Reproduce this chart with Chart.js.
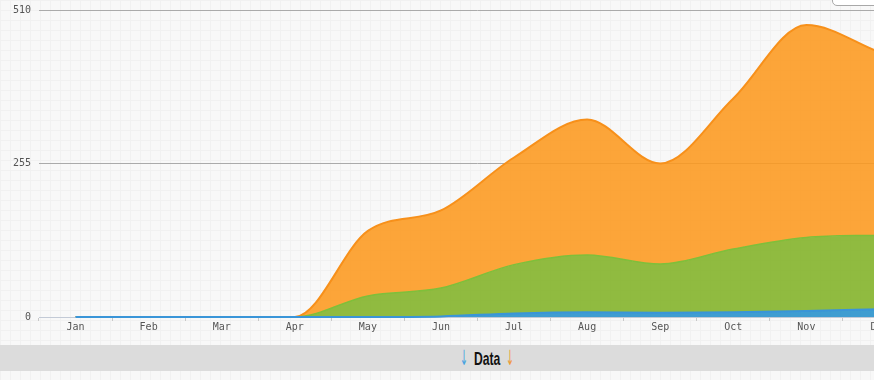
<!DOCTYPE html>
<html>
<head>
<meta charset="utf-8">
<script src="https://cdn.jsdelivr.net/npm/chart.js@4/dist/chart.umd.min.js"></script>
<style>
  html, body { margin: 0; padding: 0; overflow: hidden; width: 874px; height: 380px; }
  body {
    background-color: #f8f8f8;
    background-image:
      linear-gradient(#f1f1f1 1px, transparent 1px),
      linear-gradient(90deg, #f1f1f1 1px, transparent 1px);
    background-size: 10px 10px;
  }
  #wrap { position: absolute; left: 0; top: -4px; width: 916px; height: 337px; }
  #corner { position: absolute; left: 832px; top: -20px; width: 60px; height: 24px; border: 1px solid #a8a8a8; border-radius: 5px; background: #fff; }
  #bar { position: absolute; left: 0; top: 345px; width: 874px; height: 26px; background: #dcdcdc; }
  #bar div { position: absolute; white-space: nowrap; transform-origin: 0 0; }
  #data { left: 474px; top: 4px; font: bold 19px "Liberation Sans", Arial, sans-serif; line-height: 19px; color: #111; transform: scaleX(0.64); }
  .arrow { top: 2px; font: 21px "DejaVu Sans", sans-serif; line-height: 22px; transform: scaleX(0.45); }
  #a1 { left: 460px; color: #4aa3e0; }
  #a2 { left: 506px; color: #ee9a3a; }
</style>
</head>
<body>
<div id="wrap"><canvas id="chartArea"></canvas></div>
<div id="corner"></div>
<div id="bar">
  <div id="a1" class="arrow">↓</div>
  <div id="data">Data</div>
  <div id="a2" class="arrow">↓</div>
</div>
<script>
// months on the x axis
var months = ["Jan", "Feb", "Mar", "Apr", "May", "Jun", "Jul", "Aug", "Sep", "Oct", "Nov", "Dec"];
// stacked series, bottom to top
var seriesBlue = [0, 0, 0, 0, 0, 1, 6, 8, 7, 8, 10, 13];
var seriesGreen = [0, 0, 0, 0, 35, 47, 81, 95, 81, 105, 122, 123];
var seriesOrange = [0, 0, 0, 0, 108, 129, 178, 225, 167, 250, 353, 304];
var yTicks = [0, 255, 510];

var monoFont = { family: "'DejaVu Sans Mono', monospace", size: 10 };

var ctx = document.getElementById("chartArea").getContext("2d");
var chart = new Chart(ctx, {
    type: "line",
    data: {
        labels: months,
        datasets: [
            {
                data: seriesBlue,
                fill: "origin",
                clip: false,
                backgroundColor: "rgba(36,143,203,0.88)",
                borderColor: "#3a95d8",
                borderWidth: 2
            },
            {
                data: seriesGreen,
                fill: "-1",
                backgroundColor: "rgba(129,178,37,0.88)",
                borderColor: "#7fbf3a",
                borderWidth: 1.5
            },
            {
                data: seriesOrange,
                fill: "-1",
                backgroundColor: "rgba(252,152,30,0.88)",
                borderColor: "#f7901a",
                borderWidth: 2
            }
        ]
    },
    options: {
        responsive: true,
        maintainAspectRatio: false,
        animation: false,
        layout: { padding: 0 },
        elements: {
            point: { radius: 0, hoverRadius: 0 },
            line: { cubicInterpolationMode: "monotone" }
        },
        plugins: {
            legend: { display: false },
            tooltip: { enabled: false }
        },
        scales: {
            x: {
                type: "category",
                offset: true,
                grid: {
                    offset: true,
                    drawOnChartArea: false,
                    drawTicks: true,
                    tickLength: 4,
                    color: "#c8c8c8"
                },
                border: { display: true, color: "#c3cad6", width: 1 },
                ticks: { color: "#555", font: monoFont, padding: 0, maxRotation: 0, autoSkip: false }
            },
            y: {
                stacked: true,
                min: 0,
                max: 510,
                afterFit: function (scale) { scale.width = 39; },
                afterBuildTicks: function (scale) {
                    scale.ticks = yTicks.map(function (v) { return { value: v }; });
                },
                grid: {
                    drawTicks: false,
                    color: function (c) { return c.tick && c.tick.value === 0 ? "rgba(0,0,0,0)" : "#aaaaaa"; }
                },
                border: { display: false },
                ticks: { color: "#555", font: monoFont, padding: 8 }
            }
        }
    }
});
</script>
</body>
</html>
